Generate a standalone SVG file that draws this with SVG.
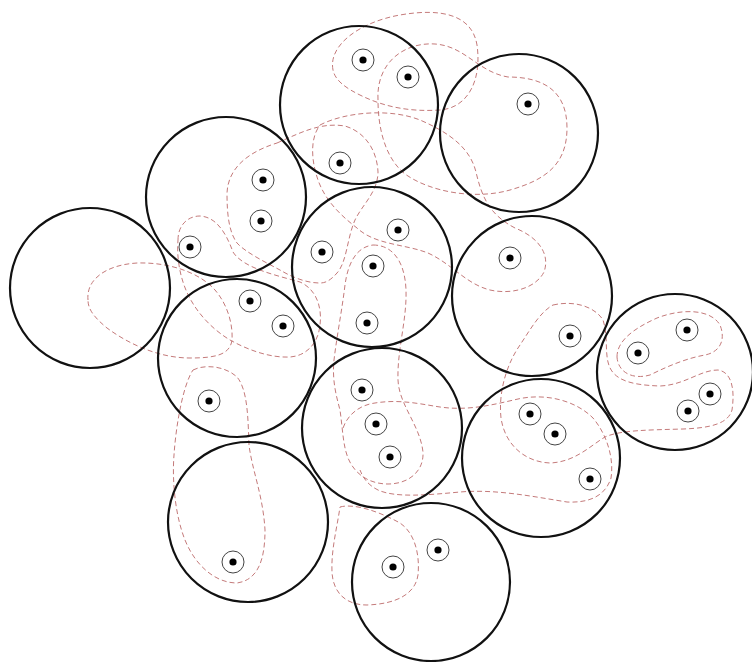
<svg xmlns="http://www.w3.org/2000/svg" width="752" height="662" viewBox="0 0 752 662">
<style>
.big{fill:none;stroke:#111;stroke-width:2.2}
.ring{fill:#fff;stroke:#444;stroke-width:1}
.dot{fill:#000}
.cl{fill:none;stroke:#c47a7a;stroke-width:1;stroke-dasharray:5 3}
</style>
<defs>
<g id="pt"><circle class="ring" r="11"/><circle class="dot" r="3.6"/></g>
</defs>
<rect width="752" height="662" fill="#fff"/>
<g id="connectors">
<path class="cl" d="M333,70 C328,45 360,22 400,15 C440,8 472,14 477,45 C482,80 468,108 440,110 C410,112 385,107 362,96 C345,88 335,80 333,70 Z"/>
<path class="cl" d="M378,100 C376,62 405,42 435,44 C465,46 478,72 508,77 C545,77 567,92 567,128 C567,165 545,180 510,190 C475,200 430,192 405,174 C385,158 378,128 378,100 Z"/>
<path class="cl" d="M277,143 C300,133 320,122 345,126 C365,132 377,150 378,172 C378,192 362,205 355,220 C347,238 347,262 337,273 C330,281 325,283 320,283 C305,283 290,276 280,270 C265,262 245,252 237,243 C229,232 227,215 227,193 C228,170 245,153 277,143 Z"/>
<path class="cl" d="M320,125 C345,112 390,108 420,120 C450,133 470,148 476,172 C482,198 490,215 515,228 C540,238 550,255 544,272 C536,288 512,295 490,290 C466,284 452,264 428,253 C405,244 375,245 357,228 C340,215 325,200 318,180 C311,160 310,138 320,125 Z"/>
<path class="cl" d="M373,245 C393,245 405,262 406,290 C407,320 397,350 398,380 C399,405 420,425 423,452 C424,472 408,484 388,484 C370,484 355,475 348,458 C343,445 343,432 340,410 C336,395 332,380 334,360 C337,335 342,310 345,285 C348,262 357,247 373,245 Z"/>
<path class="cl" d="M343,428 C348,414 360,405 375,403 C400,399 420,404 440,407 C468,411 492,405 518,399 C545,393 575,400 593,418 C608,436 614,460 611,478 C605,497 588,503 567,502 C530,496 495,489 460,492 C428,495 395,498 378,490 C368,485 363,478 360,470"/>
<path class="cl" d="M178,240 C178,225 188,216 200,216 C215,217 225,230 233,252 C243,268 275,275 300,282 C318,290 322,310 320,325 C318,345 305,356 290,357 C270,358 248,350 230,340 C210,328 192,308 184,285 C178,268 177,252 178,240 Z"/>
<path class="cl" d="M88,300 C86,280 105,265 137,263 C170,262 200,273 215,290 C228,305 233,325 232,340 C230,355 215,358 190,358 C160,358 130,345 107,328 C95,318 88,310 88,300 Z"/>
<path class="cl" d="M193,370 C205,364 225,366 237,377 C248,390 248,420 249,445 C252,470 263,495 265,530 C265,560 258,580 237,583 C215,583 195,565 185,540 C175,515 172,480 174,455 C176,425 183,385 193,370 Z"/>
<path class="cl" d="M340,507 C355,503 380,512 400,523 C415,533 420,555 418,575 C415,595 395,604 367,605 C345,605 333,592 332,572 C331,550 337,528 340,507 Z"/>
<path class="cl" d="M553,305 C575,300 595,307 603,320 C608,335 605,350 608,362 C612,380 630,385 660,386 C685,385 700,370 718,370 C732,372 735,390 732,410 C728,424 710,428 683,429 C650,430 620,430 605,437 C590,446 575,462 550,463 C525,462 505,445 501,418 C498,390 508,362 520,345 C530,330 540,312 553,305 Z"/>
<path class="cl" d="M617,357 C617,340 635,328 657,318 C680,309 710,308 720,325 C726,340 720,352 705,355 C688,358 670,365 650,375 C632,380 618,372 617,357 Z"/>
</g>
<g id="n1"><circle class="big" cx="359" cy="105" r="79"/><use href="#pt" x="363" y="60"/><use href="#pt" x="408" y="77"/><use href="#pt" x="340" y="163"/></g>
<g id="n2"><circle class="big" cx="519" cy="133" r="79"/><use href="#pt" x="528" y="104"/></g>
<g id="n3"><circle class="big" cx="226" cy="197" r="80"/><use href="#pt" x="263" y="180"/><use href="#pt" x="261" y="221"/><use href="#pt" x="190" y="247"/></g>
<g id="n4"><circle class="big" cx="90" cy="288" r="80"/></g>
<g id="n5"><circle class="big" cx="372" cy="267" r="80"/><use href="#pt" x="322" y="252"/><use href="#pt" x="398" y="230"/><use href="#pt" x="373" y="266"/><use href="#pt" x="367" y="323"/></g>
<g id="n6"><circle class="big" cx="532" cy="296" r="80"/><use href="#pt" x="510" y="258"/><use href="#pt" x="570" y="336"/></g>
<g id="n7"><circle class="big" cx="237" cy="358" r="79"/><use href="#pt" x="250" y="301"/><use href="#pt" x="283" y="326"/><use href="#pt" x="209" y="401"/></g>
<g id="n8"><circle class="big" cx="675" cy="372" r="78"/><use href="#pt" x="638" y="353"/><use href="#pt" x="687" y="330"/><use href="#pt" x="710" y="394"/><use href="#pt" x="688" y="411"/></g>
<g id="n9"><circle class="big" cx="382" cy="428" r="80"/><use href="#pt" x="362" y="390"/><use href="#pt" x="376" y="424"/><use href="#pt" x="390" y="457"/></g>
<g id="n10"><circle class="big" cx="541" cy="458" r="79"/><use href="#pt" x="530" y="414"/><use href="#pt" x="555" y="434"/><use href="#pt" x="590" y="479"/></g>
<g id="n11"><circle class="big" cx="248" cy="522" r="80"/><use href="#pt" x="233" y="562"/></g>
<g id="n12"><circle class="big" cx="431" cy="582" r="79"/><use href="#pt" x="393" y="567"/><use href="#pt" x="438" y="550"/></g>
</svg>
